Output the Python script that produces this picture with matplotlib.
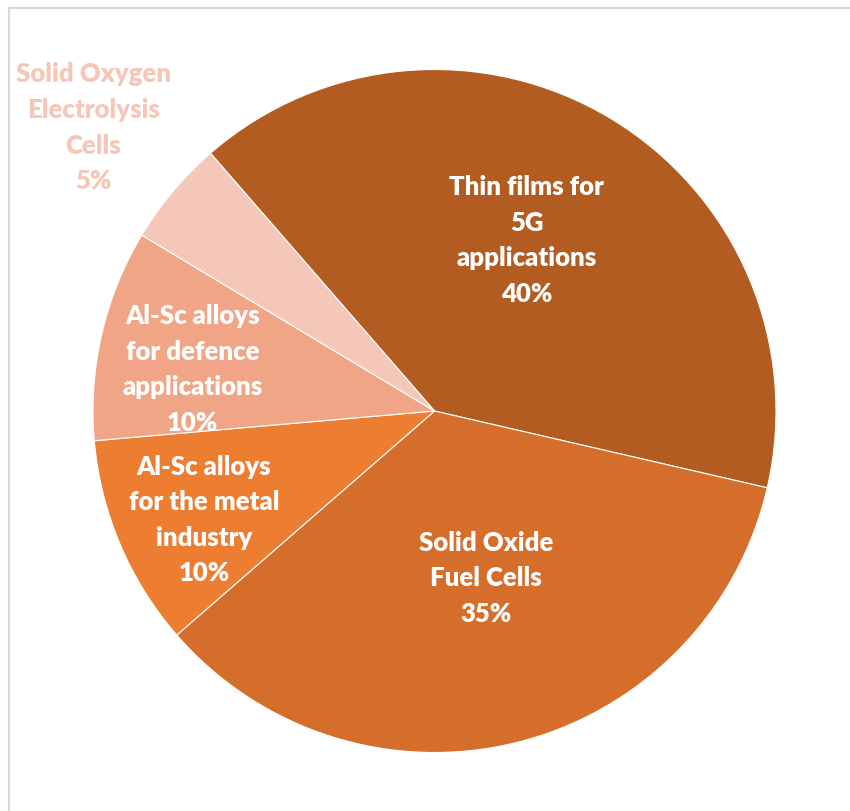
import matplotlib
matplotlib.use("Agg")
import matplotlib.pyplot as plt
import numpy as np

categories = ["Thin films for\n5G\napplications",
              "Solid Oxide\nFuel Cells",
              "Al-Sc alloys\nfor the metal\nindustry",
              "Al-Sc alloys\nfor defence\napplications",
              "Solid Oxygen\nElectrolysis\nCells"]
values = [40, 35, 10, 10, 5]
colors = ["#B35C22", "#D46E2A", "#ED7D31", "#F0A686", "#F5C7B8"]
text_colors = ["white", "white", "white", "white", "#F5C7B8"]
# radial distance (fraction of radius) and angular offset (deg) for labels
label_dist = [0.57, 0.51, 0.745, 0.72, 1.30]
label_dang = [2.7, 3.3, 2.1, 3.0, 0.2]

plt.rcParams['font.family'] = ['Lato', 'DejaVu Sans']

W, H = 850, 812
fig = plt.figure(figsize=(W / 100, H / 100), dpi=100)
ax = fig.add_axes([0, 0, 1, 1])

cx, cy, R = 434.5, H - 412, 341.5
wedges, _ = ax.pie(values, colors=colors, startangle=131, counterclock=False,
                   radius=R, center=(cx, cy), frame=True,
                   wedgeprops=dict(edgecolor='white', linewidth=0.8))
ax.set_xlim(0, W)
ax.set_ylim(0, H)
ax.set_aspect('equal')
ax.axis('off')

for w, cat, v, d, da, tc in zip(wedges, categories, values, label_dist, label_dang, text_colors):
    ang = np.deg2rad((w.theta1 + w.theta2) / 2 + da)
    x = cx + d * R * np.cos(ang)
    y = cy + d * R * np.sin(ang)
    ax.text(x, y, f"{cat}\n{v}%", ha='center', va='center', color=tc,
            fontsize=18.5, fontweight='heavy', linespacing=1.58)

# light frame lines (top and left)
ax.plot([8.5, W], [H - 8.5, H - 8.5], color='#D9D9D9', lw=1.5, clip_on=False)
ax.plot([8.5, 8.5], [0, H - 8.5], color='#D9D9D9', lw=1.5, clip_on=False)

fig.savefig("out.png", dpi=100, facecolor='white')
